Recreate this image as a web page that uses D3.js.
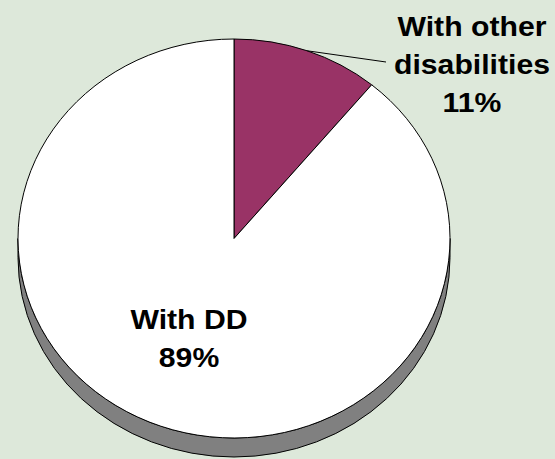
<!DOCTYPE html>
<html>
<head>
<meta charset="utf-8">
<script src="https://cdn.jsdelivr.net/npm/d3@7"></script>
<style>
  html, body { margin: 0; padding: 0; background: #DDE8DA; }
  svg { display: block; }
</style>
</head>
<body>
<svg id="chart" width="555" height="459"></svg>
<script>
// ---- data ----
const categories = ["With other disabilities", "With DD"];
const values = [11, 89];
const labelLines = [["With other", "disabilities", "11%"], ["With DD", "89%"]];
const colors = ["#993366", "#FFFFFF"];

// ---- layout ----
const W = 555, H = 459;
const cx = 234, cy = 238.5, rx = 216, ry = 199.5, depth = 19;
const svg = d3.select("#chart");
svg.append("rect").attr("width", W).attr("height", H).attr("fill", "#DDE8DA");

const sx = rx / ry;
const g = svg.append("g").attr("transform", `translate(${cx},${cy}) scale(${sx},1)`);

// side (3D depth)
const p = d3.path();
p.moveTo(ry, 0);
p.arc(0, 0, ry, 0, Math.PI, false);
p.lineTo(-ry, depth);
p.arc(0, depth, ry, Math.PI, 0, true);
p.closePath();
g.append("path").attr("d", p.toString())
  .attr("fill", "#808080").attr("stroke", "#000").attr("stroke-width", 1)
  .attr("vector-effect", "non-scaling-stroke");

const pie = d3.pie().sort(null).value(d => d)(values);
const arc = d3.arc().innerRadius(0).outerRadius(ry);
g.selectAll("path.slice").data(pie).join("path")
  .attr("class", "slice")
  .attr("d", arc)
  .attr("fill", (d, i) => colors[i])
  .attr("stroke", "#000").attr("stroke-width", 1)
  .attr("vector-effect", "non-scaling-stroke");

// leader line for small slice
const a0 = (pie[0].startAngle + pie[0].endAngle) / 2;
const lx = cx + rx * Math.sin(a0), ly = cy - ry * Math.cos(a0);
svg.append("line").attr("x1", lx).attr("y1", ly).attr("x2", 386).attr("y2", 62)
  .attr("stroke", "#000").attr("stroke-width", 1);

// labels
const labelPos = [{x: 472, y: 36}, {x: 189, y: 329}];
const lineH = 38;
labelLines.forEach((lines, i) => {
  const t = svg.append("g").attr("transform", `translate(${labelPos[i].x},${labelPos[i].y}) scale(1.06,1)`);
  lines.forEach((s, j) => {
    t.append("text").attr("x", 0).attr("y", j * lineH)
      .attr("text-anchor", "middle")
      .attr("font-family", "Arial, 'Liberation Sans', sans-serif")
      .attr("font-weight", "bold").attr("font-size", 28.5)
      .attr("fill", "#000").text(s);
  });
});
</script>
</body>
</html>
